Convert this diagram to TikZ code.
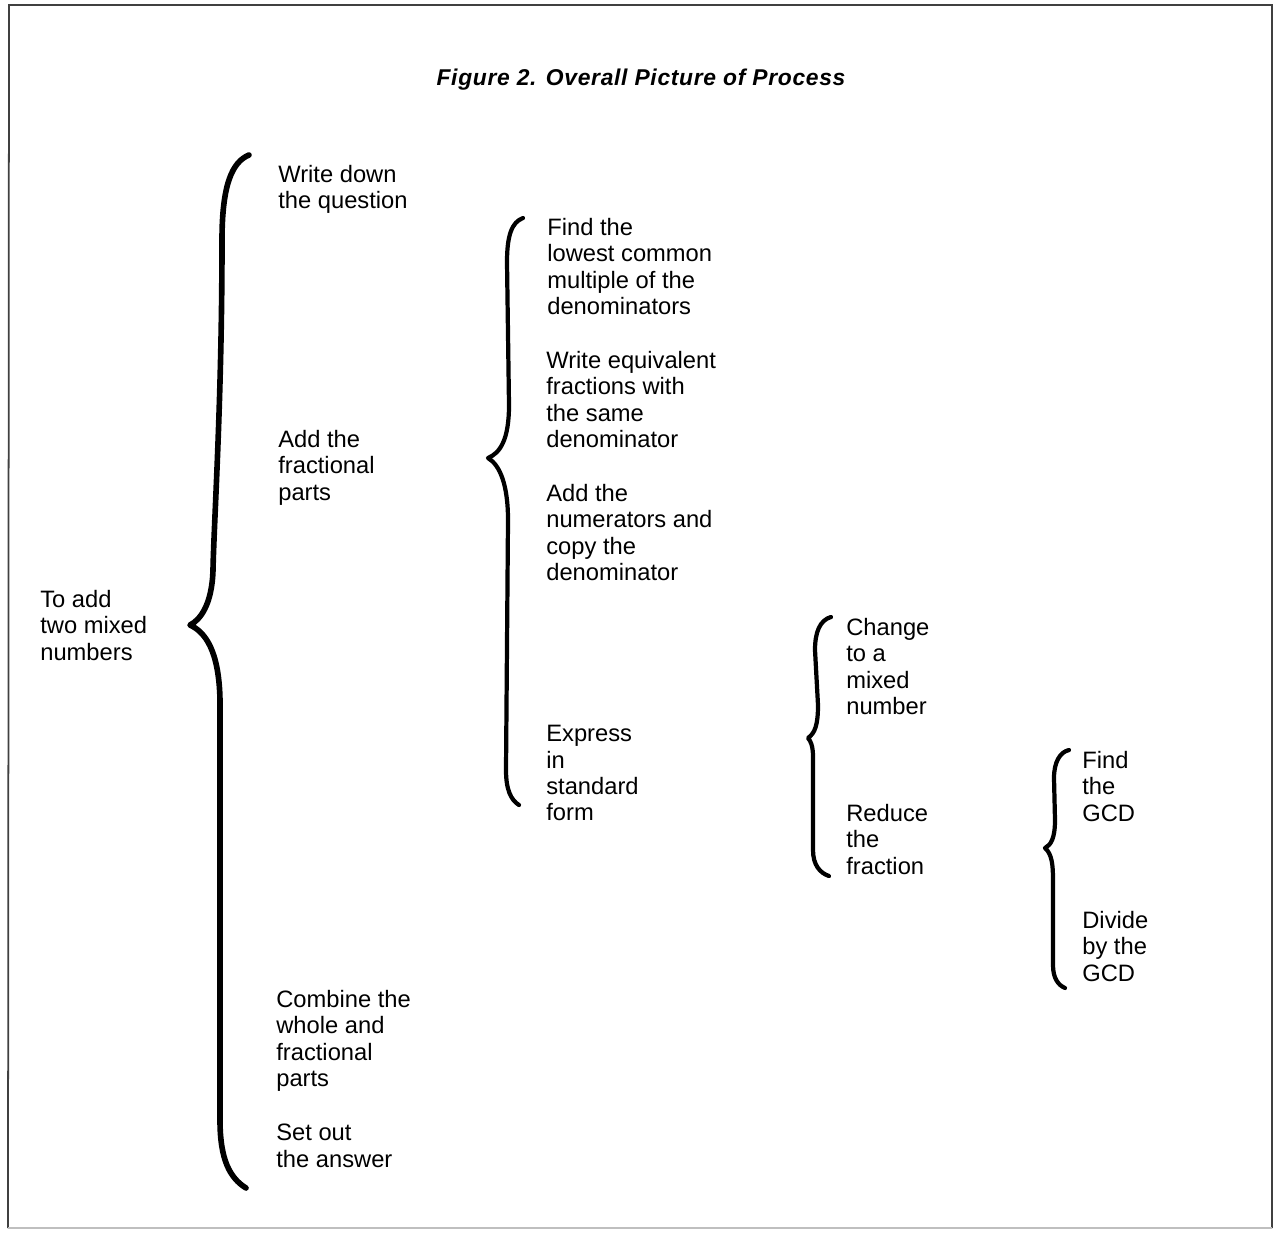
\documentclass[tikz,border=0pt]{standalone}
\usepackage{fontspec}
\setmainfont{Liberation Sans}
\newfontfamily\titlefont[LetterSpace=3]{Liberation Sans}
\usepackage{tikz}
\usetikzlibrary{positioning}

\begin{document}
\begin{tikzpicture}[x=0.02cm, y=-0.02cm,
    stepbox/.style={anchor=north west, inner sep=0pt, align=left,
                 font=\fontsize{13.5}{15}\selectfont},
    curly/.style={line width=2.4pt, line cap=round, line join=round},
    frame/.style={line width=1pt, black!75}
]
\useasboundingbox (0,0) rectangle (1275,1232);
% frame
\draw[frame] (8,1228) -- (9,5) -- (1272,5) -- (1272,1228);
\draw[frame, black!25] (8,1228) -- (1272,1228);

\node[inner sep=0pt, font=\titlefont\fontsize{13}{15}\selectfont\bfseries\itshape] (title) at (641,80) {Figure 2. Overall Picture of Process};

% level 0
\node[stepbox] (task) at (40,590) {To add\\two mixed\\numbers};

% level 1
\node[stepbox] (write) at (278,165) {Write down\\the question};
\node[stepbox] (addfrac) at (278,430) {Add the\\fractional\\parts};
\node[stepbox] (combine) at (276,990) {Combine the\\whole and\\fractional\\parts};
\node[stepbox] (setout) at (276,1124) {Set out\\the answer};

% level 2
\node[stepbox] (lcm) at (547,218) {Find the\\lowest common\\multiple of the\\denominators};
\node[stepbox] (equiv) at (546,351) {Write equivalent\\fractions with\\the same\\denominator};
\node[stepbox] (addnum) at (546,484) {Add the\\numerators and\\copy the\\denominator};
\node[stepbox] (express) at (546,725) {Express\\in\\standard\\form};

% level 3
\node[stepbox] (change) at (846,618) {Change\\to a\\mixed\\number};
\node[stepbox] (reduce) at (846,804) {Reduce\\the\\fraction};

% level 4
\node[stepbox] (findgcd) at (1082,751) {Find\\the\\GCD};
\node[stepbox] (divide) at (1082,911) {Divide\\by the\\GCD};

% braces
\draw[curly, line width=3.2pt] (249,155) .. controls (232,162) and (222,185) .. (222,240)
    .. controls (222,400) and (214,520) .. (213,570)
    .. controls (212,605) and (200,620) .. (190,625)
    .. controls (205,632) and (219,650) .. (220,700) -- (220,1120)
    .. controls (220,1160) and (230,1178) .. (246,1188);
\draw[curly] (523,218) .. controls (512,222) and (507,235) .. (507,262) -- (509,405)
    .. controls (509,440) and (500,453) .. (488,458)
    .. controls (500,465) and (508,485) .. (508,520) -- (506,770)
    .. controls (506,790) and (511,800) .. (519,805);
\draw[curly] (831,617) .. controls (820,620) and (815,632) .. (815,650) -- (818,705)
    .. controls (818,725) and (815,733) .. (808,738)
    .. controls (814,745) and (813,755) .. (813,770) -- (813,850)
    .. controls (813,865) and (820,873) .. (829,876);
\draw[curly] (1069,750) .. controls (1060,752) and (1054,762) .. (1054,778) -- (1055,820)
    .. controls (1055,838) and (1051,845) .. (1045,848)
    .. controls (1052,854) and (1053,865) .. (1053,880) -- (1053,965)
    .. controls (1053,978) and (1058,985) .. (1065,988);
\end{tikzpicture}
\end{document}
